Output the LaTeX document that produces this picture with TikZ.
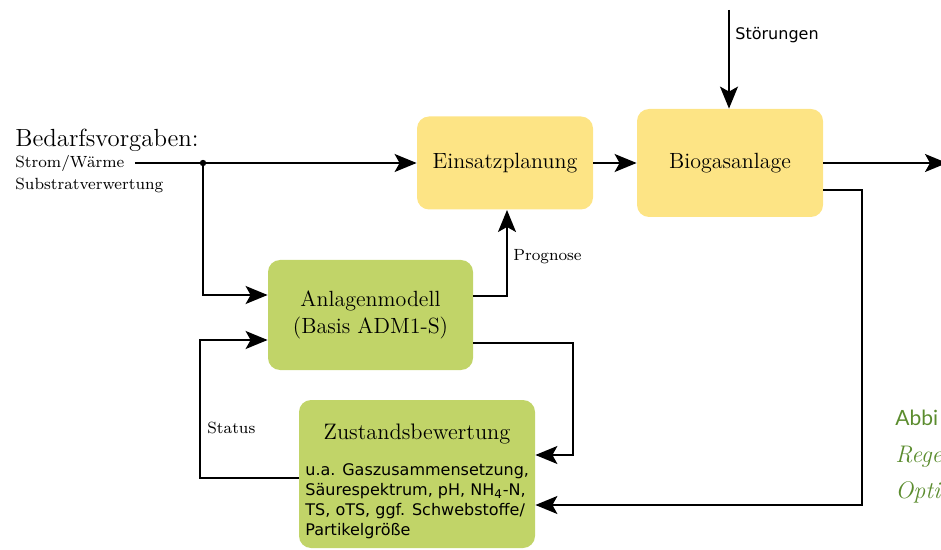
\documentclass[tikz,border=0pt]{standalone}
\usepackage{fontspec}
\newfontfamily\dejavu{DejaVu Sans}
\newfontfamily\capfont{Lato}
\usepackage{xcolor}
\usetikzlibrary{shapes,arrows,arrows.meta,positioning,calc}
\definecolor{planyellow}{HTML}{FDE485}
\definecolor{modelgreen}{HTML}{C1D468}
\definecolor{capgreen}{HTML}{5B8C2E}
\tikzstyle{arrow} = [line width=0.9pt,-{Stealth[length=11pt,width=9pt,inset=2.5pt]}]
\tikzstyle{line} = [line width=0.9pt]

\begin{document}
\begin{tikzpicture}[x=0.5pt, y=-0.5pt,
    plan_node/.style={rectangle, rounded corners=6pt, fill=planyellow, align=center, font=\fontsize{11}{13.5}\selectfont},
    model_node/.style={rectangle, rounded corners=6pt, fill=modelgreen, align=center, font=\fontsize{11}{13.5}\selectfont},
    small_label/.style={anchor=west, inner sep=0pt, font=\fontsize{8.1}{10}\selectfont}]

    \useasboundingbox (0,0) rectangle (941,550);

    % Inputs
    \node[anchor=west, inner sep=0pt, font=\fontsize{12.4}{14}\selectfont] (bedarf) at (15,140) {Bedarfsvorgaben:};
    \node[small_label] (strom) at (15,163) {Strom/Wärme};
    \node[small_label] (substrat) at (15,185) {Substratverwertung};

    % Nodes (blocks)
    \node[plan_node, minimum width=88pt, minimum height=46.5pt] (einsatz) at (505,163) {Einsatzplanung};
    \node[plan_node, minimum width=93pt, minimum height=54pt] (biogas) at (730,163) {Biogasanlage};
    \node[model_node, minimum width=102.5pt, minimum height=55pt] (anlagen) at (370.5,315) {Anlagenmodell\\(Basis ADM1-S)};
    \node[model_node, minimum width=118pt, minimum height=74pt] (zustand) at (417,474) {};
    \node[font=\fontsize{11.2}{13.5}\selectfont] (ztitle) at (417,434) {Zustandsbewertung};
    \node[anchor=north west, align=left, inner sep=0pt, font=\dejavu\fontsize{8}{10}\selectfont] (zbody) at (305,463)
        {u.a. Gaszusammensetzung,\\Säurespektrum, pH, NH\textsubscript{4}-N,\\TS, oTS, ggf. Schwebstoffe/\\Partikelgröße};

    % Helper points
    \coordinate (split) at (203,163);
    \coordinate (stoer) at (729,10);
    \coordinate (ausgang) at (947,163);

    % Connections
    \draw[arrow] ([xshift=5pt]strom.east |- split) -- (einsatz.west);
    \fill (split) circle (1.6pt);
    \draw[arrow] (split) |- ([yshift=10pt]anlagen.west);
    \draw[arrow] (einsatz) -- (biogas);
    \draw[arrow] (stoer) -- (biogas.north -| stoer);
    \node[anchor=west, inner sep=0pt, font=\dejavu\fontsize{8}{10}\selectfont] (stoerlabel) at (735,35) {Störungen};
    \draw[arrow] (biogas.east) -- (ausgang);
    \draw[arrow] ([yshift=-13.5pt]biogas.east) -- (862,190) |- ([yshift=-15.5pt]zustand.east);
    \draw[arrow] ([yshift=9.5pt]anlagen.east) -- (507,296) -- (507,210);
    \node[small_label] (prognose) at (513,257) {Prognose};
    \draw[arrow] ([yshift=-14pt]anlagen.east) -- (573,343) |- ([yshift=9.5pt]zustand.east);
    \draw[arrow] ([yshift=-2pt]zustand.west) -- (200,478) |- ([yshift=-12.5pt]anlagen.west);
    \node[small_label] (status) at (207,428) {Status};

    % Caption (cut off at the right edge)
    \node[anchor=west, inner sep=0pt, text=capgreen, font=\capfont\fontsize{10.5}{12}\selectfont] (cap1) at (895,418) {Abbi};
    \node[anchor=west, inner sep=0pt, text=capgreen, font=\itshape\fontsize{12}{13}\selectfont] (cap2) at (895,457) {Rege};
    \node[anchor=west, inner sep=0pt, text=capgreen, font=\itshape\fontsize{12}{13}\selectfont] (cap3) at (895,492) {Opti};
\end{tikzpicture}
\end{document}
